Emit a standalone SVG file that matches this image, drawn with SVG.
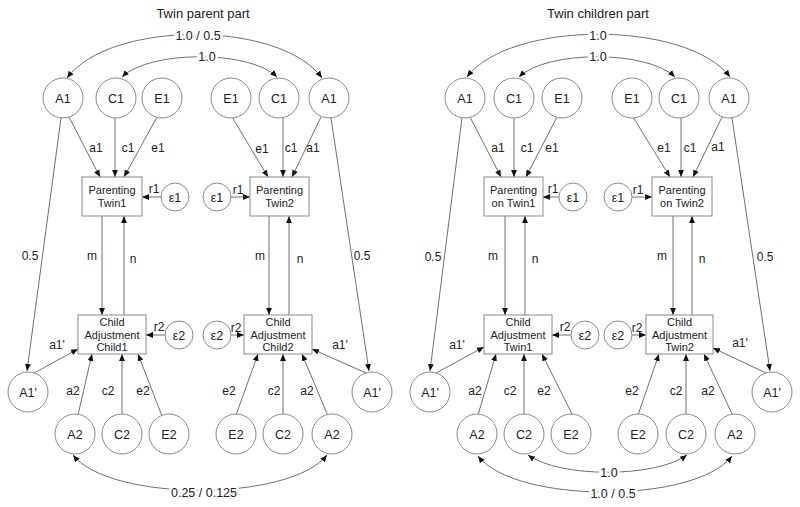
<svg xmlns="http://www.w3.org/2000/svg" width="800" height="507" viewBox="0 0 800 507">
<defs>
<marker id="ah" viewBox="0 0 10 10" refX="10" refY="5" markerWidth="7" markerHeight="7" markerUnits="userSpaceOnUse" orient="auto-start-reverse"><path d="M0,0.8 L10,5 L0,9.2 z" fill="#111"/></marker>
<style>
.ln{stroke:#707070;stroke-width:1;fill:none}
.ar{marker-end:url(#ah)}
.bi{marker-start:url(#ah);marker-end:url(#ah)}
circle,rect{fill:#fff;stroke:#8c8c8c;stroke-width:1}
text{font-family:"Liberation Sans",Arial,sans-serif;fill:#222;text-anchor:middle}
.t{font-size:13px}
.n{font-size:12.5px}
.b{font-size:11px}
.e{font-size:12px}
.c{font-size:12.5px;stroke:#fff;stroke-width:5;paint-order:stroke}
</style>
</defs>
<rect x="0" y="0" width="800" height="507" style="fill:#fff;stroke:none"/>
<text class="t" x="203" y="18">Twin parent part</text>
<text class="t" x="598" y="18">Twin children part</text>

<g id="connectors">
<!-- left part curves -->
<path class="ln bi" d="M67,78 C110,20 280,20 322,78"/>
<path class="ln bi" d="M122,77 C150,50 250,50 277,77"/>
<path class="ln bi" d="M73,455 C110,502 290,502 327,455"/>
<!-- left part paths -->
<path class="ln ar" d="M69,117 L100,177"/>
<path class="ln ar" d="M115,118 L115,177"/>
<path class="ln ar" d="M157,117 L124,177"/>
<path class="ln ar" d="M232,117 L268,177"/>
<path class="ln ar" d="M283,118 L283,177"/>
<path class="ln ar" d="M321,117 L292,177"/>
<path class="ln ar" d="M61,118 L27,371"/>
<path class="ln ar" d="M331,118 L369,371"/>
<path class="ln ar" d="M161,197 L142,197"/>
<path class="ln ar" d="M231,197 L250,197"/>
<path class="ln ar" d="M102,216 L102,315"/>
<path class="ln ar" d="M124,315 L124,216"/>
<path class="ln ar" d="M269,216 L269,315"/>
<path class="ln ar" d="M289,315 L289,216"/>
<path class="ln ar" d="M165,335 L146,335"/>
<path class="ln ar" d="M231,335 L244,335"/>
<path class="ln ar" d="M34,373 L78,349"/>
<path class="ln ar" d="M366,373 L312,349"/>
<path class="ln ar" d="M78,415 L92,354"/>
<path class="ln ar" d="M122,414 L122,354"/>
<path class="ln ar" d="M162,416 L138,354"/>
<path class="ln ar" d="M236,415 L258,354"/>
<path class="ln ar" d="M283,414 L283,354"/>
<path class="ln ar" d="M328,416 L302,354"/>
<!-- right part curves -->
<path class="ln bi" d="M467,77 C510,20 687,20 730,77"/>
<path class="ln bi" d="M519,77 C547,50 647,50 675,77"/>
<path class="ln bi" d="M528,455 C560,478 655,478 687,455"/>
<path class="ln bi" d="M478,456 C515,504 695,504 732,456"/>
<!-- right part paths -->
<path class="ln ar" d="M470,117 L501,177"/>
<path class="ln ar" d="M514,118 L514,177"/>
<path class="ln ar" d="M557,117 L526,177"/>
<path class="ln ar" d="M633,117 L670,177"/>
<path class="ln ar" d="M681,118 L681,177"/>
<path class="ln ar" d="M722,117 L693,177"/>
<path class="ln ar" d="M462,118 L430,371"/>
<path class="ln ar" d="M732,118 L770,371"/>
<path class="ln ar" d="M559,197 L543,197"/>
<path class="ln ar" d="M632,197 L652,197"/>
<path class="ln ar" d="M505,216 L505,315"/>
<path class="ln ar" d="M525,315 L525,216"/>
<path class="ln ar" d="M673,216 L673,315"/>
<path class="ln ar" d="M692,315 L692,216"/>
<path class="ln ar" d="M571,335 L552,335"/>
<path class="ln ar" d="M632,335 L646,335"/>
<path class="ln ar" d="M436,373 L484,347"/>
<path class="ln ar" d="M766,373 L713,348"/>
<path class="ln ar" d="M478,415 L496,354"/>
<path class="ln ar" d="M524,414 L524,354"/>
<path class="ln ar" d="M573,416 L542,354"/>
<path class="ln ar" d="M638,415 L659,354"/>
<path class="ln ar" d="M686,414 L686,354"/>
<path class="ln ar" d="M733,416 L704,354"/>
</g>

<g id="edge-labels">
<text class="c" x="198" y="40">1.0 / 0.5</text>
<text class="c" x="207" y="61">1.0</text>
<text class="c" x="204" y="497">0.25 / 0.125</text>
<text class="c" x="598" y="40">1.0</text>
<text class="c" x="598" y="61">1.0</text>
<text class="c" x="609" y="477">1.0</text>
<text class="c" x="613" y="498">1.0 / 0.5</text>
<text class="e" x="96" y="152">a1</text>
<text class="e" x="128" y="152">c1</text>
<text class="e" x="158" y="152">e1</text>
<text class="e" x="262" y="153">e1</text>
<text class="e" x="291" y="152">c1</text>
<text class="e" x="313" y="152">a1</text>
<text class="e" x="30" y="260">0.5</text>
<text class="e" x="362" y="260">0.5</text>
<text class="e" x="92" y="260">m</text>
<text class="e" x="133" y="263">n</text>
<text class="e" x="260" y="260">m</text>
<text class="e" x="300" y="263">n</text>
<text class="e" x="154" y="193">r1</text>
<text class="e" x="238" y="194">r1</text>
<text class="e" x="159" y="331">r2</text>
<text class="e" x="236" y="332">r2</text>
<text class="e" x="57" y="349">a1'</text>
<text class="e" x="340" y="349">a1'</text>
<text class="e" x="73" y="395">a2</text>
<text class="e" x="108" y="395">c2</text>
<text class="e" x="143" y="395">e2</text>
<text class="e" x="229" y="395">e2</text>
<text class="e" x="274" y="395">c2</text>
<text class="e" x="307" y="395">a2</text>
<text class="e" x="498" y="152">a1</text>
<text class="e" x="527" y="152">c1</text>
<text class="e" x="552" y="152">e1</text>
<text class="e" x="664" y="152">e1</text>
<text class="e" x="690" y="152">c1</text>
<text class="e" x="718" y="151">a1</text>
<text class="e" x="433" y="261">0.5</text>
<text class="e" x="765" y="261">0.5</text>
<text class="e" x="493" y="260">m</text>
<text class="e" x="535" y="263">n</text>
<text class="e" x="662" y="260">m</text>
<text class="e" x="702" y="263">n</text>
<text class="e" x="553" y="193">r1</text>
<text class="e" x="638" y="194">r1</text>
<text class="e" x="565" y="331">r2</text>
<text class="e" x="637" y="332">r2</text>
<text class="e" x="457" y="349">a1'</text>
<text class="e" x="740" y="347">a1'</text>
<text class="e" x="475" y="395">a2</text>
<text class="e" x="510" y="395">c2</text>
<text class="e" x="544" y="395">e2</text>
<text class="e" x="632" y="395">e2</text>
<text class="e" x="676" y="395">c2</text>
<text class="e" x="708" y="395">a2</text>
</g>

<!-- left part nodes -->
<g id="pA1a"><circle cx="63" cy="98" r="20"/><text class="n" x="63" y="102.5">A1</text></g>
<g id="pC1a"><circle cx="116" cy="98" r="20"/><text class="n" x="116" y="102.5">C1</text></g>
<g id="pE1a"><circle cx="162" cy="98" r="20"/><text class="n" x="162" y="102.5">E1</text></g>
<g id="pE1b"><circle cx="231" cy="98" r="20"/><text class="n" x="231" y="102.5">E1</text></g>
<g id="pC1b"><circle cx="279" cy="98" r="20"/><text class="n" x="279" y="102.5">C1</text></g>
<g id="pA1b"><circle cx="329" cy="98" r="20"/><text class="n" x="329" y="102.5">A1</text></g>
<g id="pPar1"><rect x="82" y="177" width="60" height="39"/><text class="b" x="112" y="194">Parenting</text><text class="b" x="112" y="207">Twin1</text></g>
<g id="pPar2"><rect x="250" y="177" width="59" height="39"/><text class="b" x="279.5" y="194">Parenting</text><text class="b" x="279.5" y="207">Twin2</text></g>
<g id="pEps1a"><circle cx="175" cy="197" r="14"/><text class="n" x="175" y="201.5">ε1</text></g>
<g id="pEps1b"><circle cx="217" cy="197" r="14"/><text class="n" x="217" y="201.5">ε1</text></g>
<g id="pChild1"><rect x="78" y="315" width="68" height="39"/><text class="b" x="112" y="326">Child</text><text class="b" x="112" y="339">Adjustment</text><text class="b" x="112" y="351">Child1</text></g>
<g id="pChild2"><rect x="244" y="315" width="68" height="39"/><text class="b" x="278" y="326">Child</text><text class="b" x="278" y="339">Adjustment</text><text class="b" x="278" y="351">Child2</text></g>
<g id="pEps2a"><circle cx="179" cy="335" r="14"/><text class="n" x="179" y="339.5">ε2</text></g>
<g id="pEps2b"><circle cx="217" cy="335" r="14"/><text class="n" x="217" y="339.5">ε2</text></g>
<g id="pA1pa"><circle cx="28" cy="392" r="20"/><text class="n" x="28" y="396.5">A1'</text></g>
<g id="pA1pb"><circle cx="372" cy="392" r="20"/><text class="n" x="372" y="396.5">A1'</text></g>
<g id="pA2a"><circle cx="75" cy="434" r="20"/><text class="n" x="75" y="438.5">A2</text></g>
<g id="pC2a"><circle cx="122" cy="434" r="20"/><text class="n" x="122" y="438.5">C2</text></g>
<g id="pE2a"><circle cx="169" cy="434" r="20"/><text class="n" x="169" y="438.5">E2</text></g>
<g id="pE2b"><circle cx="236" cy="434" r="20"/><text class="n" x="236" y="438.5">E2</text></g>
<g id="pC2b"><circle cx="283" cy="434" r="20"/><text class="n" x="283" y="438.5">C2</text></g>
<g id="pA2b"><circle cx="332" cy="434" r="20"/><text class="n" x="332" y="438.5">A2</text></g>

<!-- right part nodes -->
<g id="cA1a"><circle cx="465" cy="98" r="20"/><text class="n" x="465" y="102.5">A1</text></g>
<g id="cC1a"><circle cx="514" cy="98" r="20"/><text class="n" x="514" y="102.5">C1</text></g>
<g id="cE1a"><circle cx="562" cy="98" r="20"/><text class="n" x="562" y="102.5">E1</text></g>
<g id="cE1b"><circle cx="632" cy="98" r="20"/><text class="n" x="632" y="102.5">E1</text></g>
<g id="cC1b"><circle cx="679" cy="98" r="20"/><text class="n" x="679" y="102.5">C1</text></g>
<g id="cA1b"><circle cx="729" cy="98" r="20"/><text class="n" x="729" y="102.5">A1</text></g>
<g id="cPar1"><rect x="484" y="177" width="59" height="39"/><text class="b" x="513.5" y="194">Parenting</text><text class="b" x="513.5" y="207">on Twin1</text></g>
<g id="cPar2"><rect x="652" y="177" width="60" height="39"/><text class="b" x="682" y="194">Parenting</text><text class="b" x="682" y="207">on Twin2</text></g>
<g id="cEps1a"><circle cx="573" cy="197" r="14"/><text class="n" x="573" y="201.5">ε1</text></g>
<g id="cEps1b"><circle cx="618" cy="197" r="14"/><text class="n" x="618" y="201.5">ε1</text></g>
<g id="cChild1"><rect x="484" y="315" width="68" height="39"/><text class="b" x="518" y="326">Child</text><text class="b" x="518" y="339">Adjustment</text><text class="b" x="518" y="351">Twin1</text></g>
<g id="cChild2"><rect x="646" y="315" width="67" height="39"/><text class="b" x="679.5" y="326">Child</text><text class="b" x="679.5" y="339">Adjustment</text><text class="b" x="679.5" y="351">Twin2</text></g>
<g id="cEps2a"><circle cx="585" cy="335" r="14"/><text class="n" x="585" y="339.5">ε2</text></g>
<g id="cEps2b"><circle cx="618" cy="335" r="14"/><text class="n" x="618" y="339.5">ε2</text></g>
<g id="cA1pa"><circle cx="430" cy="392" r="20"/><text class="n" x="430" y="396.5">A1'</text></g>
<g id="cA1pb"><circle cx="772" cy="392" r="20"/><text class="n" x="772" y="396.5">A1'</text></g>
<g id="cA2a"><circle cx="477" cy="434" r="20"/><text class="n" x="477" y="438.5">A2</text></g>
<g id="cC2a"><circle cx="524" cy="434" r="20"/><text class="n" x="524" y="438.5">C2</text></g>
<g id="cE2a"><circle cx="571" cy="434" r="20"/><text class="n" x="571" y="438.5">E2</text></g>
<g id="cE2b"><circle cx="638" cy="434" r="20"/><text class="n" x="638" y="438.5">E2</text></g>
<g id="cC2b"><circle cx="686" cy="434" r="20"/><text class="n" x="686" y="438.5">C2</text></g>
<g id="cA2b"><circle cx="735" cy="434" r="20"/><text class="n" x="735" y="438.5">A2</text></g>
</svg>
